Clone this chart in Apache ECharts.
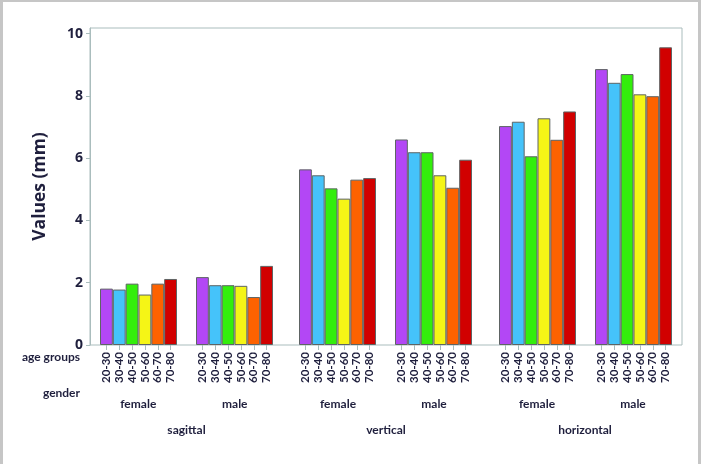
<!DOCTYPE html>
<html>
<head>
<meta charset="utf-8">
<script src="https://cdn.jsdelivr.net/npm/echarts@6/dist/echarts.min.js"></script>
<style>
  html, body { margin: 0; padding: 0; background: #fff; }
  #wrap { position: relative; width: 701px; height: 464px; }
  #chart { width: 701px; height: 464px; }
  #border { position: absolute; left: 0; top: 0; width: 701px; height: 464px; box-sizing: border-box;
            border-left: 3px solid #c6c6c6; border-top: 2px solid #c6c6c6; border-right: 3px solid #c6c6c6;
            pointer-events: none; }
</style>
</head>
<body>
<div id="wrap"><div id="chart"></div><div id="border"></div></div>
<script>
// ---- data ----
const ageGroups = ['20-30', '30-40', '40-50', '50-60', '60-70', '70-80'];
const genders = ['female', 'male'];
const directions = ['sagittal', 'vertical', 'horizontal'];
const yTicks = [0, 2, 4, 6, 8, 10];

const sagittalFemale = [1.81, 1.78, 1.97, 1.62, 1.97, 2.12];
const sagittalMale = [2.18, 1.92, 1.92, 1.90, 1.54, 2.54];
const verticalFemale = [5.64, 5.45, 5.03, 4.70, 5.31, 5.36];
const verticalMale = [6.60, 6.19, 6.19, 5.45, 5.05, 5.95];
const horizontalFemale = [7.03, 7.17, 6.06, 7.28, 6.59, 7.50];
const horizontalMale = [8.86, 8.42, 8.70, 8.05, 7.99, 9.56];

const groupValues = [sagittalFemale, sagittalMale, verticalFemale, verticalMale, horizontalFemale, horizontalMale];

// ---- layout / style ----
const ageColors = ['#b347f5', '#45c3fa', '#33ee0c', '#f5f516', '#fd6200', '#d10000'];
const FONT = 'Lato';
const FONT2 = 'Open Sans';
const TXT = '#1f1f3d';
const AXIS = '#aabdbd';
const TOP = 28, BOTTOM = 119, YMAX = 10.18;
const groupLefts = [100, 196, 299, 395, 499, 595];
const groupWidth = 77;
const dirLefts = [90, 290, 489];
const dirWidths = [193, 192, 192];

const grid = [], xAxis = [], yAxis = [], series = [];

// frame grid with visible y axis
grid.push({ left: 90, right: 19, top: TOP, bottom: BOTTOM, show: true, borderColor: AXIS, borderWidth: 1, backgroundColor: 'transparent' });
xAxis.push({ gridIndex: 0, type: 'category', data: [''], show: false });
yAxis.push({
  gridIndex: 0, type: 'value', min: 0, max: YMAX,
  name: 'Values (mm)', nameLocation: 'middle', nameGap: 41,
  nameTextStyle: { fontFamily: FONT2, fontSize: 17.5, fontWeight: 'bold', color: TXT },
  axisLine: { show: true, lineStyle: { color: AXIS, width: 1 } },
  axisTick: { show: true, length: 4, customValues: yTicks, lineStyle: { color: AXIS } },
  axisLabel: { customValues: yTicks, fontFamily: FONT2, fontSize: 14, fontWeight: 'bold', color: TXT, margin: 7 },
  splitLine: { show: false }
});

// one grid per gender group (bars)
groupValues.forEach((vals, i) => {
  const gi = grid.length;
  grid.push({ left: groupLefts[i], width: groupWidth, top: TOP, bottom: BOTTOM });
  xAxis.push({
    gridIndex: gi, type: 'category', data: ageGroups,
    axisLine: { show: false },
    axisTick: { show: true, alignWithLabel: true, interval: 0, length: 5, lineStyle: { color: AXIS } },
    axisLabel: { interval: 0, rotate: 90, fontFamily: FONT, fontSize: 11.5, fontWeight: 'bold', color: TXT, margin: 7 }
  });
  yAxis.push({ gridIndex: gi, type: 'value', min: 0, max: YMAX, show: false, splitLine: { show: false } });
  series.push({
    type: 'bar', xAxisIndex: gi, yAxisIndex: gi, data: vals,
    colorBy: 'data', barCategoryGap: '0%', barWidth: '100%',
    itemStyle: { borderColor: '#5e6464', borderWidth: 1 },
    silent: true
  });
});

// one grid per direction (gender labels + direction name)
directions.forEach((d, i) => {
  const gi = grid.length;
  grid.push({ left: dirLefts[i], width: dirWidths[i], top: TOP, bottom: BOTTOM });
  xAxis.push({
    gridIndex: gi, type: 'category', data: genders,
    name: d, nameLocation: 'middle', nameGap: 79,
    nameTextStyle: { fontFamily: FONT, fontSize: 12, fontWeight: 'bold', color: TXT },
    axisLine: { show: false }, axisTick: { show: false },
    axisLabel: { interval: 0, fontFamily: FONT, fontSize: 12, fontWeight: 'bold', color: TXT, margin: 53 }
  });
  yAxis.push({ gridIndex: gi, type: 'value', min: 0, max: YMAX, show: false, splitLine: { show: false } });
});

const option = {
  animation: false,
  backgroundColor: '#ffffff',
  color: ageColors,
  grid, xAxis, yAxis, series,
  graphic: [
    { type: 'text', right: 621, top: 351, style: { text: 'age groups', fontFamily: FONT, fontSize: 12, fontWeight: 'bold', fill: TXT } },
    { type: 'text', right: 621, top: 387, style: { text: 'gender', fontFamily: FONT, fontSize: 12, fontWeight: 'bold', fill: TXT } }
  ]
};

const chart = echarts.init(document.getElementById('chart'), null, { renderer: 'canvas' });
chart.setOption(option);
</script>
</body>
</html>
